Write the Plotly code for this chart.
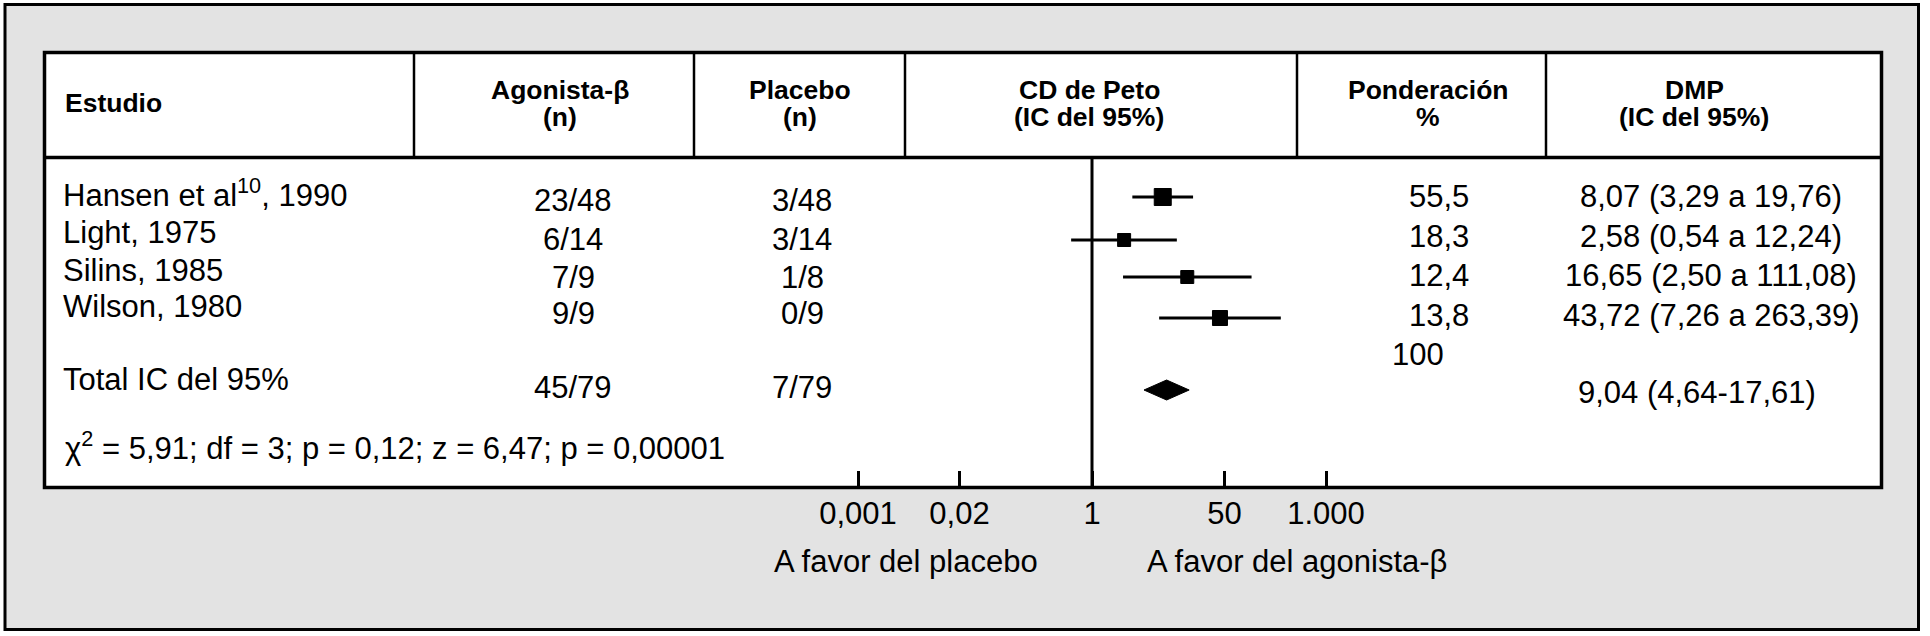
import plotly.graph_objects as go

W, H = 1930, 636

# ---------------- data ----------------
studies = ["Hansen et al<sup>10</sup>, 1990", "Light, 1975", "Silins, 1985", "Wilson, 1980"]
agonista_n = ["23/48", "6/14", "7/9", "9/9"]
placebo_n = ["3/48", "3/14", "1/8", "0/9"]
or_vals = [8.07, 2.58, 16.65, 43.72]
ci_low = [3.29, 0.54, 2.50, 7.26]
ci_high = [19.76, 12.24, 111.08, 263.39]
weights = [55.5, 18.3, 12.4, 13.8]

total_label = "Total IC del 95%"
total_agonista = "45/79"
total_placebo = "7/79"
total_weight = 100
total_or = 9.04
total_low = 4.64
total_high = 17.61

stats_text = "χ<sup>2</sup> = 5,91; df = 3; p = 0,12; z = 6,47; p = 0,00001"

tick_vals = [0.001, 0.02, 1, 50, 1000]
tick_text = ["0,001", "0,02", "1", "50", "1.000"]

headers_line1 = ["Agonista-β", "Placebo", "CD de Peto", "Ponderación", "DMP"]
headers_line2 = ["(n)", "(n)", "(IC del 95%)", "%", "(IC del 95%)"]
first_header = "Estudio"
label_placebo = "A favor del placebo"
label_agonista = "A favor del agonista-β"

# ---------------- layout constants (pixels) ----------------
FONT = "Liberation Sans, Arial, Helvetica, sans-serif"
BODY = 31
HEAD = 26.5
PER_DECADE = 78.0                  # pixels per decade on the log axis
NULL_X = 1092                      # pixel position of OR = 1
LOG_SPAN = 3.3                     # axis range -3.3 .. 3.3 decades
OUT = (5, 4.5, 1918.5, 629.5)      # outer frame
TAB = (44.5, 52.5, 1881.5, 487.5)  # inner table
HEAD_BOTTOM = 157.5
DIVIDERS = [414, 694, 905, 1297, 1546]
HEAD_CENTERS = [560, 800, 1089, 1428, 1694]
LABEL_X = 61

row_label_y = [193, 232, 270, 306]
row_num_y = [200, 239, 277, 313]
row_mark_y = [197, 240, 277, 318]
row_right_y = [196, 236, 275, 315]
marker_sizes = [17, 13, 13, 15]


def px(x):
    return x / W


def dec(v, n):
    return f"{v:.{n}f}".replace(".", ",")


ax_x0 = NULL_X - LOG_SPAN * PER_DECADE
ax_x1 = NULL_X + LOG_SPAN * PER_DECADE

fig = go.Figure()

# study squares with CIs
fig.add_trace(go.Scatter(
    x=or_vals, y=row_mark_y, mode="markers",
    marker=dict(symbol="square", size=marker_sizes, color="black", opacity=1,
                line=dict(color="black", width=1)),
    error_x=dict(type="data", symmetric=False,
                 array=[h - o for h, o in zip(ci_high, or_vals)],
                 arrayminus=[o - l for o, l in zip(or_vals, ci_low)],
                 thickness=3, width=0, color="black"),
    showlegend=False, hoverinfo="skip"))

# total diamond
dy = 390
fig.add_trace(go.Scatter(
    x=[total_low, total_or, total_high, total_or, total_low],
    y=[dy, dy - 10, dy, dy + 10, dy],
    mode="lines", fill="toself", fillcolor="black",
    line=dict(color="black", width=1),
    showlegend=False, hoverinfo="skip"))

shapes = []
# outer gray frame
shapes.append(dict(type="rect", xref="paper", yref="y",
                   x0=px(OUT[0]), x1=px(OUT[2]), y0=OUT[1], y1=OUT[3],
                   fillcolor="#e3e3e3", line=dict(color="black", width=3), layer="below"))
# inner table
shapes.append(dict(type="rect", xref="paper", yref="y",
                   x0=px(TAB[0]), x1=px(TAB[2]), y0=TAB[1], y1=TAB[3],
                   fillcolor="white", line=dict(color="black", width=3.5), layer="below"))
# header bottom line
shapes.append(dict(type="line", xref="paper", yref="y",
                   x0=px(TAB[0]), x1=px(TAB[2]), y0=HEAD_BOTTOM, y1=HEAD_BOTTOM,
                   line=dict(color="black", width=3.5)))
# header column dividers
for d in DIVIDERS:
    shapes.append(dict(type="line", xref="paper", yref="y",
                       x0=px(d), x1=px(d), y0=TAB[1], y1=HEAD_BOTTOM,
                       line=dict(color="black", width=2.5)))
# line of no effect
shapes.append(dict(type="line", xref="x", yref="y",
                   x0=1, x1=1, y0=HEAD_BOTTOM, y1=TAB[3],
                   line=dict(color="black", width=3)))

ann = []


def text(x, y, s, size=BODY, anchor="center", bold=False):
    ann.append(dict(x=px(x), y=y, xref="paper", yref="y", text=s, showarrow=False,
                    xanchor=anchor, yanchor="middle",
                    font=dict(family=FONT, size=size, color="black",
                              weight="bold" if bold else "normal")))


# header
text(LABEL_X + 2, 103, first_header, HEAD, "left", True)
for cx, l1, l2 in zip(HEAD_CENTERS, headers_line1, headers_line2):
    text(cx, 90, l1, HEAD, "center", True)
    text(cx, 117, l2, HEAD, "center", True)

# study rows
for i in range(len(studies)):
    text(LABEL_X, row_label_y[i], studies[i], anchor="left")
    text(573, row_num_y[i], agonista_n[i])
    text(802, row_num_y[i], placebo_n[i])
    text(1471, row_right_y[i], dec(weights[i], 1), anchor="right")
    text(1711, row_right_y[i],
         f"{dec(or_vals[i], 2)} ({dec(ci_low[i], 2)} a {dec(ci_high[i], 2)})")

# total row
text(1418, 354, str(total_weight))
text(LABEL_X, 379, total_label, anchor="left")
text(573, 387, total_agonista)
text(802, 387, total_placebo)
text(1576, 392, f"{dec(total_or, 2)} ({dec(total_low, 2)}-{dec(total_high, 2)})", anchor="left")

# stats
text(LABEL_X + 2, 446, stats_text, anchor="left")

# axis side labels
text(906, 561, label_placebo)
text(1297, 561, label_agonista)

fig.update_layout(
    template="none",
    width=W, height=H, autosize=False,
    margin=dict(l=0, r=0, t=0, b=0, pad=0, autoexpand=False),
    paper_bgcolor="white", plot_bgcolor="rgba(0,0,0,0)",
    shapes=shapes, annotations=ann,
    xaxis=dict(type="log", range=[-LOG_SPAN, LOG_SPAN], domain=[px(ax_x0), px(ax_x1)],
               anchor="free", position=1 - TAB[3] / H, automargin=False,
               showgrid=False, zeroline=False, showline=False,
               ticks="inside", ticklen=17, tickwidth=3, tickcolor="black",
               tickvals=tick_vals, ticktext=tick_text, ticklabelstandoff=4,
               tickfont=dict(family=FONT, size=BODY, color="black"),
               fixedrange=True),
    yaxis=dict(range=[H, 0], domain=[0, 1], visible=False, automargin=False,
               fixedrange=True),
    showlegend=False,
)

fig.write_html("out.html",
               config={"displayModeBar": False},
               post_script="document.body.style.margin='0';document.body.style.overflow='hidden';")
